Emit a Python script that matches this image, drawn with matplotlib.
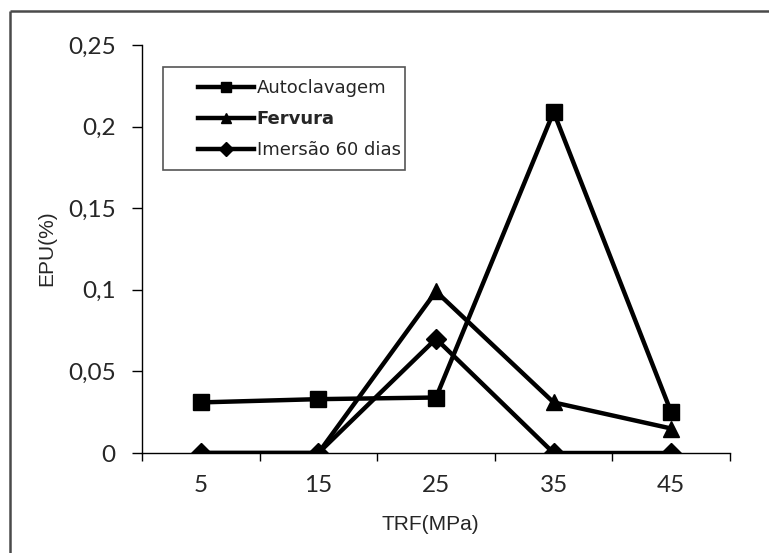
import matplotlib
matplotlib.use("Agg")
import matplotlib.pyplot as plt
from matplotlib.lines import Line2D
from matplotlib.patches import Rectangle

# Data
categories = ["5", "15", "25", "35", "45"]
autoclavagem = [0.031, 0.033, 0.034, 0.209, 0.025]
fervura = [0.0, 0.0, 0.099, 0.031, 0.015]
imersao = [0.0, 0.0, 0.07, 0.0, 0.0]
series_labels = ["Autoclavagem", "Fervura", "Imersão 60 dias"]
y_ticks = [0, 0.05, 0.1, 0.15, 0.2, 0.25]
y_tick_labels = ["0", "0,05", "0,1", "0,15", "0,2", "0,25"]

W, H = 769, 553
fig = plt.figure(figsize=(W / 100, H / 100), dpi=100)


def fx(px):
    return px / W


def fy(py):
    return 1 - py / H


# Chart-area frame (left and top edges)
frame_col = "#4a4a4a"
fig.add_artist(Line2D([fx(9.5), fx(9.5)], [0, fy(10.5)], transform=fig.transFigure,
                      color=frame_col, lw=1.8, solid_capstyle="butt"))
fig.add_artist(Line2D([fx(9.5), 1], [fy(10.5), fy(10.5)], transform=fig.transFigure,
                      color=frame_col, lw=1.8, solid_capstyle="butt"))

ax = fig.add_axes([fx(142), fy(453), (730 - 142) / W, (453 - 45) / H])

x = list(range(len(categories)))
lw = 3.2
ax.plot(x, autoclavagem, color="black", lw=lw, marker="s", ms=11, label=series_labels[0], zorder=3)
ax.plot(x, fervura, color="black", lw=lw, marker="^", ms=11, label=series_labels[1], zorder=3)
ax.plot(x, imersao, color="black", lw=lw, marker="D", ms=10.5, label=series_labels[2], zorder=4)

ax.set_xlim(-0.5, len(categories) - 0.5)
ax.set_ylim(0, 0.25)

for s in ["top", "right"]:
    ax.spines[s].set_visible(False)
for s in ["left", "bottom"]:
    ax.spines[s].set_linewidth(1.0)
    ax.spines[s].set_color("black")

text_col = "#262626"
tick_font = dict(family="Lato", size=17.5, color=text_col)
ax.set_xticks(x)
ax.set_xticklabels(categories, fontdict=tick_font)
ax.set_xticks([i - 0.5 for i in range(len(categories) + 1)], minor=True)
ax.tick_params(axis="x", which="major", length=0, pad=16)
ax.tick_params(axis="x", which="minor", length=6, width=1.0, direction="out")
ax.set_yticks(y_ticks)
ax.set_yticklabels(y_tick_labels, fontdict=tick_font)
ax.tick_params(axis="y", length=7, width=1.0, direction="out", pad=12)

# Axis titles
title_font = dict(family="Liberation Sans", size=15, color=text_col)
fig.text(fx(430), fy(525), "TRF(MPa)", ha="center", va="center", **title_font)
fig.text(fx(47), fy(248), "EPU(%)", ha="center", va="center", rotation=90, **title_font)

# Legend box and entries
fig.add_artist(Rectangle((fx(163), fy(170)), fx(405) - fx(163), fy(67) - fy(170),
                         transform=fig.transFigure, fill=False, edgecolor="#555555", lw=1.2))
leg = ax.legend(loc="upper left", bbox_to_anchor=(fx(198), fy(79)),
                bbox_transform=fig.transFigure, borderaxespad=0, borderpad=0, frameon=False,
                handlelength=3.1, prop=dict(family="DejaVu Sans", size=13),
                labelspacing=0.72, handletextpad=0.15)
for h in leg.legend_handles:
    h.set_markersize(7.5)
for t in leg.get_texts():
    t.set_color(text_col)
leg.get_texts()[1].set_fontweight("bold")

fig.savefig("out.png", dpi=100)
